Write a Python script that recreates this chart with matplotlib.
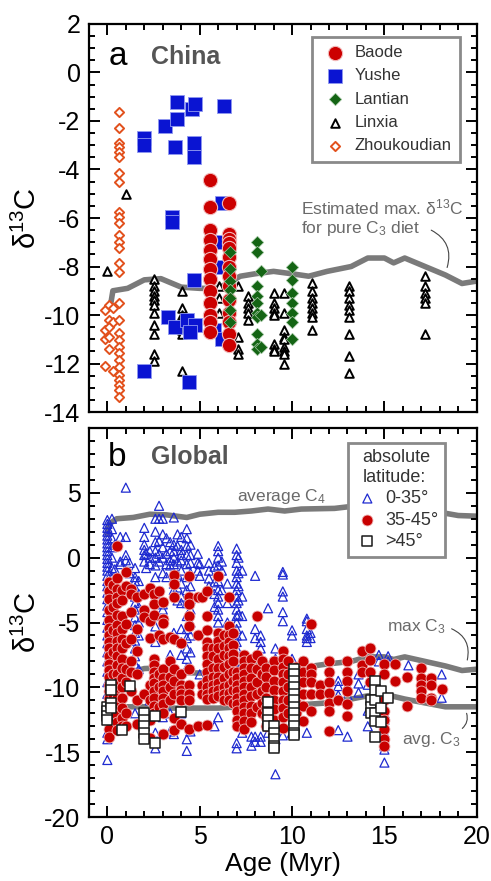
import matplotlib
matplotlib.use("Agg")
import matplotlib.pyplot as plt
from matplotlib.ticker import MultipleLocator

plt.rcParams['font.family'] = ['Liberation Sans', 'DejaVu Sans']
plt.rcParams['mathtext.fontset'] = 'custom'
plt.rcParams['mathtext.rm'] = 'Liberation Sans'
plt.rcParams['mathtext.it'] = 'Liberation Sans:italic'
plt.rcParams['axes.unicode_minus'] = False

# ---- panel a: China (age, [d13C values]) ----
baode = [(5.56, [-4.45, -5.55, -6.5, -6.9, -7.3, -7.7, -8.1, -8.5, -9.0, -9.5, -10.0, -10.3, -10.7]),
         (6.6, [-5.4, -6.65, -6.85, -7.05, -7.25, -7.6, -8.0, -8.4, -8.8, -9.4, -9.9, -10.3, -10.8, -11.25])]
yushe = [(2.0, [-2.72, -2.99, -12.3]), (3.13, [-2.2]), (3.76, [-1.2, -1.9]),
         (3.68, [-3.06]), (4.58, [-1.5]), (4.76, [-1.3]), (4.67, [-2.9, -3.47, -8.55]),
         (3.5, [-5.95, -6.15]), (6.3, [-1.4]), (3.3, [-10.1]), (3.68, [-10.5]),
         (4.3, [-10.2]), (4.76, [-10.4]), (4.5, [-10.7]), (4.4, [-12.75]),
         (5.76, [-10.6]), (6.22, [-5.4, -7.0, -8.0, -11.0])]
lantian = [(6.65, [-7.4, -8.1, -8.6, -8.95, -9.3, -9.8, -10.3]),
           (8.1, [-7.0, -7.4, -8.8, -9.2, -9.5, -9.9, -10.1, -10.8, -11.2, -11.4]),
           (8.3, [-8.2, -10.0, -11.3]),
           (10.0, [-8.0, -8.55, -9.1, -9.5, -9.9, -10.3, -11.0])]
linxia = [(0.0, [-8.2]), (1.0, [-5.0]),
          (2.55, [-8.5, -8.8, -9.0, -9.2, -9.4, -9.6, -9.9, -10.4, -10.8, -11.6, -11.9]),
          (4.06, [-9.0, -9.7, -10.0, -10.2, -10.4, -10.6, -10.8, -12.3]),
          (6.05, [-8.8, -9.3, -9.9]),
          (7.05, [-8.8, -10.9, -11.4, -11.6]),
          (7.6, [-9.2, -9.5, -9.7, -9.9, -10.2]),
          (9.04, [-9.1, -9.5, -9.7, -9.9, -10.0, -11.2, -11.4, -11.5]),
          (9.55, [-9.1, -9.9, -10.6, -10.9, -11.0, -11.3, -11.5, -11.6, -12.0]),
          (11.1, [-8.7, -9.0, -9.3, -9.5, -9.7, -9.9, -10.1, -10.6]),
          (13.1, [-8.8, -9.0, -9.3, -9.6, -9.8, -10.1, -10.8, -11.7, -12.4]),
          (17.2, [-8.4, -8.8, -9.1, -9.3, -9.5, -10.8])]
zhoukoudian = [(-0.1, [-9.8, -10.6, -11.0, -12.1]),
               (0.1, [-9.6, -10.2, -10.5, -10.9, -11.4]),
               (0.3, [-9.7, -10.3, -12.3]),
               (0.65, [-1.62, -2.27, -2.89, -3.06, -3.26, -3.47, -4.16, -4.5, -5.74, -5.95,
                       -6.19, -6.7, -6.98, -7.25, -7.87, -8.21, -9.49, -10.21, -10.76,
                       -11.03, -11.31, -11.58, -11.86, -12.13, -12.47, -12.68, -12.89,
                       -13.09, -13.37])]

# ---- carbon isotope reference curves ----
c3_age = [0.15, 0.3, 1.1, 2.0, 2.9, 4.0, 5.0, 6.0, 7.2, 8.0, 9.0, 10.0, 10.9, 11.9,
          13.2, 14.1, 15.0, 15.5, 16.1, 17.2, 18.3, 19.2, 20.0]
max_c3 = [-9.7, -9.0, -8.9, -8.55, -8.5, -8.85, -8.9, -8.9, -8.4, -8.3, -8.2, -8.3, -8.4,
          -8.2, -8.0, -7.65, -7.65, -7.85, -7.65, -8.0, -8.35, -8.7, -8.6]
avg_c3 = [-11.9, -11.6, -11.5, -11.5, -11.6, -11.6, -11.6, -11.6, -11.5, -11.4, -11.3,
          -11.3, -11.3, -11.2, -10.9, -10.65, -10.6, -10.7, -10.9, -11.2, -11.5, -11.5, -11.5]
c4_age = [0.0, 0.1, 0.5, 1.4, 2.3, 3.2, 4.3, 5.0, 6.0, 6.9, 7.8, 8.7, 9.6, 10.5, 12.3,
          13.2, 13.7, 14.5, 16.0, 17.5, 18.4, 19.0, 20.0]
avg_c4 = [1.9, 2.6, 3.0, 3.1, 3.35, 3.3, 3.1, 3.35, 3.5, 3.5, 3.6, 3.75, 3.6, 3.75, 3.8,
          3.95, 4.05, 4.0, 3.8, 3.6, 3.4, 3.25, 3.2]

# ---- panel b: Global, by absolute latitude ----
lat_low = [(0.0, [2.9, 2.6, 2.3, 2.0, 1.7, 1.4, 1.1, 0.8, 0.5, 0.2, -0.1, -0.4, -0.7, -1.0,
                  -1.4, -1.8, -2.2, -2.7, -3.2, -3.7, -4.2, -4.8, -5.4, -6.0, -6.6, -7.3,
                  -8.0, -8.8, -9.6, -10.5, -11.5, -12.5, -13.5, -14.0, -15.6]),
           (0.25, [3.0, 2.2, 1.5, 0.8, 0.0, -0.8, -1.6, -2.5]),
           (0.4, [1.0, -0.9, -1.6]),
           (0.7, [1.6, -0.3, -0.5]), (1.0, [5.4, 1.6, 0.2, -0.2]), (1.2, [-0.4, -1.2]),
           (1.5, [-0.8, -1.5, -1.8, -2.3, -3.0, -3.5, -4.0, -4.6, -5.2, -5.8, -6.4, -7.0,
                  -7.6, -8.2, -12.0]),
           (1.7, [-1.8, -2.8, -3.8, -5.0, -6.0, -8.6]),
           (2.0, [2.3, 1.6, 1.0, 0.6, 0.2, -0.3, -13.6]),
           (2.1, [0.3, -0.8]),
           (2.3, [0.5, 0.0, -0.5, -11.0, -12.5]),
           (2.6, [3.0, 2.0, 1.2, 0.5, 0.0, -0.6, -1.5, -2.8, -4.5, -5.3, -6.5, -11.5, -12.0,
                  -13.5, -14.7]),
           (2.8, [4.0, 3.0, 1.3, 0.3, -0.3]),
           (3.0, [3.0, 1.8, 0.8, 0.0, -1.2, -3.6, -4.0, -12.3]),
           (3.2, [1.5, 0.3, -0.5, -1.5]),
           (3.4, [1.2, 0.5, -0.2, -0.6, -7.5, -12.0, -13.4]),
           (3.6, [3.1, 1.0, 0.5, 0.0, -0.5, -2.0, -2.5, -5.8, -13.6]),
           (3.8, [1.8, 0.9, -0.3, -1.3, -2.3, -3.3]),
           (4.0, [1.6, 0.6, 0.2, -0.2, -1.0, -2.0, -3.0, -3.5, -5.5, -6.5, -7.5, -9.5, -12.0]),
           (4.3, [2.2, 1.5, 0.9, 0.2, -0.5, -1.5, -2.5, -3.5, -4.5, -5.5, -6.2, -7.0, -7.8,
                  -8.5, -14.0, -14.9]),
           (4.5, [1.0, 0.2, -0.4, -1.2, -2.2, -3.2, -4.0, -5.0, -6.0, -7.3, -13.4]),
           (4.9, [0.3, -0.4, -1.0]), (5.0, [-0.5, -1.4, -9.0]),
           (5.5, [-0.4, -1.0, -1.6, -2.2, -7.0]),
           (5.8, [-0.7, -1.9, -2.8, -3.8, -13.0]),
           (6.0, [0.9, 0.5, 0.0, -0.6, -1.2, -1.8, -2.5, -3.0, -3.5, -4.0, -4.5, -5.0, -6.0,
                  -7.0, -8.0, -9.0, -12.3]),
           (6.2, [-0.3, -1.0, -2.5]),
           (6.5, [-2.0, -3.5, -5.0, -6.5]),
           (7.0, [0.7, 0.2, -0.4, -1.0, -1.5, -2.0, -2.5, -3.0, -3.5, -4.0, -4.5, -5.0, -5.5,
                  -6.0, -6.5, -7.0, -7.5, -8.0, -8.5, -14.3, -14.7]),
           (7.1, [0.0, -1.2, -2.2, -3.3, -4.4]),
           (7.3, [-1.0, -3.0, -4.5, -6.0, -13.5]), (7.8, [-13.8, -14.5]),
           (8.0, [-1.4, -5.5, -6.2, -13.8, -14.2]), (8.3, [-6.0, -6.5, -7.0, -14.2, -13.8]),
           (8.7, [-3.9, -13.5]), (9.1, [-7.0, -7.8, -16.7, -14.0]),
           (9.5, [-1.1, -1.3, -2.6, -3.0, -4.2, -4.9, -13.7]),
           (10.0, [-5.6, -6.0, -7.8, -13.5]),
           (10.8, [-4.7, -4.9, -5.5, -6.0, -6.2, -6.5, -13.5]), (11.0, [-5.8, -6.2]),
           (12.5, [-9.5, -9.9, -10.6, -13.3]), (13.0, [-9.9, -10.6, -13.8]),
           (13.6, [-9.0, -9.7, -10.4]), (14.1, [-9.8, -11.8, -13.0]), (14.7, [-8.0, -7.5]),
           (15.0, [-10.5, -11.6, -12.0, -12.5, -13.5, -14.5, -14.8, -15.8]),
           (15.2, [-7.6, -8.0]), (16.3, [-8.3]), (18.1, [-9.0, -10.8])]
lat_mid = [(0.1, [-1.9, -2.6, -3.2, -4.0, -4.8, -5.4, -6.0, -6.5, -7.0, -7.6, -8.2, -8.7,
                  -9.2, -9.8, -10.3, -10.8, -11.4, -12.0, -12.6, -13.2, -13.8]),
           (0.3, [-2.1, -3.8, -5.6, -7.3, -9.0, -10.6, -12.3]),
           (0.5, [0.9, -1.6, -2.4, -3.0, -3.5, -4.4, -5.2, -5.8, -6.4, -7.0, -7.6, -8.3,
                  -9.0, -9.6, -10.3, -10.8, -11.5, -12.1, -12.7, -13.3]),
           (0.8, [-2.5, -3.3, -4.5, -5.5, -6.3, -7.0, -7.8, -8.5, -9.3, -10.0, -10.8, -11.6,
                  -12.4, -13.0]),
           (1.0, [-1.1, -2.2, -5.1, -6.6, -8.6, -9.6, -12.0, -13.0]),
           (1.3, [-2.4, -2.8, -4.2, -6.3, -8.0, -8.8, -10.3]),
           (1.6, [-3.0, -5.5, -7.2, -9.0, -11.0, -12.8]),
           (2.0, [-2.8, -4.0, -4.6, -10.5]),
           (2.3, [-2.3, -4.9, -6.2, -9.8, -11.0, -12.5, -13.9]),
           (2.5, [-2.8, -3.6, -4.4, -7.8, -8.3, -8.8, -9.3, -9.7, -10.3, -10.8, -11.4, -12.0]),
           (2.8, [-2.6, -6.0, -9.0, -10.0, -11.5]),
           (3.0, [-3.4, -4.7, -5.0, -6.3, -8.6, -9.3, -9.8, -10.3, -10.8, -11.3, -12.0, -13.6]),
           (3.4, [-6.1, -8.0, -9.2, -10.0, -11.0]),
           (3.6, [-1.3, -2.0, -3.0, -6.3, -8.6, -9.5, -10.5, -12.4, -13.3]),
           (4.0, [-6.6, -9.0, -9.8, -10.2, -10.5, -11.0, -12.8]),
           (4.4, [-1.4, -3.0, -3.6, -4.5, -5.3, -8.6, -9.8, -10.5, -11.0, -13.2]),
           (4.9, [-3.0, -6.0, -13.0]),
           (5.1, [-3.0, -9.8, -10.5]),
           (5.4, [-2.6, -4.5, -5.6, -6.5, -7.0, -7.6, -8.2, -8.8, -9.4, -10.0, -10.5, -10.9,
                  -12.9]),
           (5.7, [-7.0, -7.6, -8.5, -9.2, -9.8, -10.3, -10.8]),
           (6.0, [-1.4, -5.8, -6.4, -7.0, -7.8, -8.5, -9.2, -9.7, -10.2, -10.7]),
           (6.3, [-6.0, -6.8, -7.5, -8.4, -9.3, -10.0, -10.5, -11.0]),
           (6.6, [-3.0, -5.3, -6.0, -6.5, -7.0, -7.6, -8.2, -9.0, -9.8, -10.4, -11.0]),
           (6.8, [-5.8, -6.7, -7.4, -8.0, -8.8, -9.5, -10.2, -11.2]),
           (7.0, [-8.8, -9.3, -9.8, -10.3, -10.8, -11.3, -11.8, -12.5, -13.0]),
           (7.4, [-7.5, -8.0, -8.5, -9.0, -9.5, -10.0, -10.5, -11.0, -11.5, -12.0, -12.6,
                  -13.2]),
           (7.8, [-7.8, -8.5, -9.3, -10.0, -10.7, -11.4, -12.0, -12.7]),
           (8.1, [-4.5, -7.5, -8.6, -9.6, -10.5, -11.5]),
           (8.4, [-8.0, -9.0, -10.3, -11.2, -12.0]),
           (8.6, [-8.5, -9.2, -10.0, -10.8, -11.6, -12.3, -13.0]),
           (9.0, [-8.0, -8.7, -9.5, -10.2, -11.0, -11.7, -12.5]),
           (9.5, [-7.2, -7.8, -8.4, -9.0, -9.6, -10.3, -11.0, -11.6, -12.3, -13.1]),
           (9.8, [-8.0, -9.0, -10.0, -11.0, -12.0]),
           (10.2, [-8.4, -9.0, -9.8, -10.5, -11.2, -12.0]),
           (10.6, [-8.0, -8.8, -9.6, -10.5, -11.4, -12.6]),
           (11.0, [-5.1, -8.5, -9.0, -9.6, -10.5, -11.8]),
           (11.5, [-9.8, -10.5]),
           (12.0, [-8.0, -8.8, -9.6, -10.4, -11.2, -11.8, -13.4]),
           (12.5, [-11.0]),
           (13.0, [-8.0, -8.8, -9.5, -10.3, -11.3, -12.2]),
           (13.8, [-7.2, -8.3, -8.8]),
           (14.2, [-7.0, -7.9, -8.8, -9.6]),
           (15.0, [-8.2, -9.0, -11.0, -11.8, -12.5, -13.2, -14.0, -14.5]),
           (15.6, [-8.2, -9.5]), (16.2, [-9.2, -11.4]),
           (17.0, [-8.5, -9.3, -9.8, -10.3, -10.8]),
           (17.5, [-9.3, -9.8, -10.8, -11.0]), (18.1, [-10.1])]
lat_high = [(0.0, [-11.5, -11.8, -12.2, -12.5]), (0.2, [-9.8, -10.2, -11.2, -11.6]),
            (0.8, [-13.3]), (1.2, [-9.9]), (2.0, [-12.0, -12.5, -13.0, -13.5, -14.0]),
            (2.6, [-12.2, -14.3]), (4.0, [-11.9]), (8.7, [-11.1, -12.0, -12.5, -13.0]),
            (9.0, [-13.0, -13.5, -14.0, -14.5, -14.7]),
            (10.1, [-8.6, -9.0, -9.5, -10.0, -10.5, -11.0, -11.5, -12.0, -12.5, -13.0,
                    -13.5, -13.7]),
            (14.3, [-11.0, -11.5, -12.0]), (14.5, [-9.5, -10.2, -11.0, -12.0, -12.6, -13.8]),
            (14.8, [-10.3, -11.6, -12.7]), (15.2, [-10.8])]


def flat(cols):
    xs, ys = [], []
    for age, vals in cols:
        for v in vals:
            xs.append(age)
            ys.append(v)
    return xs, ys


def style_axes(ax):
    ax.set_xlim(-1, 20)
    ax.xaxis.set_major_locator(MultipleLocator(5))
    ax.xaxis.set_minor_locator(MultipleLocator(1))
    ax.tick_params(which='both', direction='in', top=True, right=True,
                   labelsize=18, width=1.4, pad=6)
    ax.tick_params(which='major', length=8)
    ax.tick_params(which='minor', length=4.5)
    for sp in ax.spines.values():
        sp.set_linewidth(1.6)
    ax.set_ylabel(r'δ$^{13}$C', fontsize=21, labelpad=2)


gray = '#7a7a7a'
fig = plt.figure(figsize=(4.91, 8.81), dpi=100)
ax1 = fig.add_axes([0.181, 0.5323, 0.790, 0.4405])
ax2 = fig.add_axes([0.181, 0.0726, 0.790, 0.4416])

# ---- panel a ----
ax1.plot(c3_age, max_c3, color=gray, lw=4, zorder=1)
x, y = flat(zhoukoudian)
ax1.scatter(x, y, s=22, marker='D', facecolor='white', edgecolor='#e2501c', lw=1.4,
            label='Zhoukoudian', zorder=3)
x, y = flat(linxia)
ax1.scatter(x, y, s=38, marker='^', facecolor='white', edgecolor='black', lw=1.4,
            label='Linxia', zorder=3)
x, y = flat(yushe)
ax1.scatter(x, y, s=95, marker='s', facecolor='#0a14d2', edgecolor='#8f98f0', lw=0.6,
            label='Yushe', zorder=4)
x, y = flat(baode)
ax1.scatter(x, y, s=105, marker='o', facecolor='#cc0000', edgecolor='#f2b8b8', lw=0.8,
            label='Baode', zorder=5)
x, y = flat(lantian)
ax1.scatter(x, y, s=40, marker='D', facecolor='#146414', edgecolor='#9fc49f', lw=0.5,
            label='Lantian', zorder=6)

style_axes(ax1)
ax1.set_ylim(-14, 2)
ax1.yaxis.set_major_locator(MultipleLocator(2))
ax1.yaxis.set_minor_locator(MultipleLocator(0.5))
ax1.tick_params(labelbottom=False)

handles, labels = ax1.get_legend_handles_labels()
order = ['Baode', 'Yushe', 'Lantian', 'Linxia', 'Zhoukoudian']
hmap = dict(zip(labels, handles))
leg = ax1.legend([hmap[k] for k in order], order, loc='upper right',
                 bbox_to_anchor=(0.957, 0.967), fontsize=12, frameon=True,
                 fancybox=False, framealpha=1, edgecolor='#8a8a8a',
                 labelspacing=0.5, handletextpad=0.35, borderpad=0.5,
                 handlelength=1.7, borderaxespad=0)
leg.get_frame().set_linewidth(2)
for t in leg.get_texts():
    t.set_color('#333333')

ax1.text(0.05, 0.915, 'a', transform=ax1.transAxes, fontsize=24, va='center')
ax1.text(0.16, 0.915, 'China', transform=ax1.transAxes, fontsize=18,
         fontweight='bold', color='#555555', va='center')
ax1.text(10.5, -5.55, r'Estimated max. δ$^{13}$C', fontsize=12.5, color='#6a6a6a',
         va='center')
ax1.text(10.5, -6.45, r'for pure C$_3$ diet', fontsize=12.5, color='#6a6a6a',
         va='center')
ax1.annotate('', xy=(18.35, -8.15), xytext=(17.4, -6.45),
             arrowprops=dict(arrowstyle='-', color='#444444', lw=0.8,
                             connectionstyle='arc3,rad=-0.45'))

# ---- panel b ----
ax2.plot(c3_age, max_c3, color=gray, lw=4, zorder=1)
ax2.plot(c3_age, avg_c3, color=gray, lw=4, zorder=1)
ax2.plot(c4_age, avg_c4, color=gray, lw=4, zorder=1)
x, y = flat(lat_low)
ax2.scatter(x, y, s=42, marker='^', facecolor='none', edgecolor='#1e2ad0', lw=0.9,
            label='0-35°', zorder=3)
x, y = flat(lat_mid)
ax2.scatter(x, y, s=62, marker='o', facecolor='#c80000', edgecolor='#f0b4b4', lw=0.6,
            label='35-45°', zorder=4)
x, y = flat(lat_high)
ax2.scatter(x, y, s=48, marker='s', facecolor='white', edgecolor='#1a1a1a', lw=1.1,
            label='>45°', zorder=5)

style_axes(ax2)
ax2.set_ylim(-20, 10)
ax2.set_yticks([-20, -15, -10, -5, 0, 5])
ax2.yaxis.set_minor_locator(MultipleLocator(1))
ax2.set_xlabel('Age (Myr)', fontsize=19, labelpad=2)

leg2 = ax2.legend(loc='upper right', bbox_to_anchor=(0.918, 0.962), fontsize=13,
                  title='absolute\nlatitude:', title_fontsize=13, frameon=True,
                  fancybox=False, framealpha=1, edgecolor='#8a8a8a',
                  labelspacing=0.25, handletextpad=0.3, borderpad=0.35,
                  handlelength=1.4, borderaxespad=0)
leg2.get_frame().set_linewidth(2)
leg2.set_zorder(10)
for t in leg2.get_texts():
    t.set_color('#333333')
leg2.get_title().set_color('#333333')

ax2.text(0.05, 0.925, 'b', transform=ax2.transAxes, fontsize=24, va='center')
ax2.text(0.16, 0.925, 'Global', transform=ax2.transAxes, fontsize=18,
         fontweight='bold', color='#555555', va='center')
ax2.text(9.4, 4.75, r'average C$_4$', fontsize=12.5, color='#6a6a6a',
         ha='center', va='center')
ax2.text(18.3, -5.3, r'max C$_3$', fontsize=12.5, color='#6a6a6a',
         ha='right', va='center')
ax2.annotate('', xy=(19.45, -8.1), xytext=(18.5, -5.4),
             arrowprops=dict(arrowstyle='-', color='#444444', lw=0.8,
                             connectionstyle='arc3,rad=-0.45'))
ax2.text(19.1, -14.0, r'avg. C$_3$', fontsize=12.5, color='#6a6a6a',
         ha='right', va='center')
ax2.annotate('', xy=(19.4, -11.8), xytext=(19.1, -13.3),
             arrowprops=dict(arrowstyle='-', color='#444444', lw=0.8,
                             connectionstyle='arc3,rad=0.4'))

fig.savefig('out.png', dpi=100)
